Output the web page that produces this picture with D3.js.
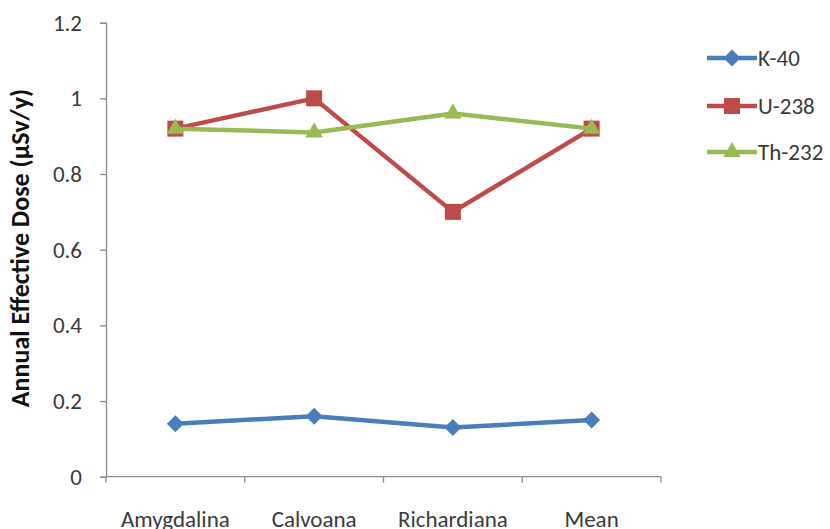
<!DOCTYPE html>
<html>
<head>
<meta charset="utf-8">
<script src="https://cdn.jsdelivr.net/npm/d3@7"></script>
<style>
  html, body { margin: 0; padding: 0; background: #fff; }
  svg { display: block; }
</style>
</head>
<body>
<svg id="chart" width="830" height="529"></svg>
<script>
// Species sampled and annual effective dose per radionuclide (µSv/y)
const categories = ["Amygdalina", "Calvoana", "Richardiana", "Mean"];
const k40 = [0.14, 0.16, 0.13, 0.15];
const u238 = [0.92, 1.00, 0.70, 0.92];
const th232 = [0.92, 0.91, 0.96, 0.92];
const yTicks = [0, 0.2, 0.4, 0.6, 0.8, 1, 1.2];
const yTickLabels = ["0", "0.2", "0.4", "0.6", "0.8", "1", "1.2"];

const series = [
  { name: "K-40", values: k40, color: "#4A7EBB", symbol: d3.symbolSquare, size: 144, rotate: 45 },
  { name: "U-238", values: u238, color: "#BE4B48", symbol: d3.symbolSquare, size: 256, rotate: 0 },
  { name: "Th-232", values: th232, color: "#98B954", symbol: d3.symbolTriangle, size: 130, rotate: 0 }
];

const svg = d3.select("#chart");
const plot = { left: 106, right: 661, top: 22.7, bottom: 476.7 };
const font = "Carlito, Lato, 'Open Sans', sans-serif";
const textColor = "#3a3a3a";
const axisColor = "#8c8c8c";

const x = d3.scaleBand().domain(categories).range([plot.left, plot.right]);
const y = d3.scaleLinear().domain([0, 1.2]).range([plot.bottom, plot.top]);

// Y axis
const yAxis = svg.append("g")
  .attr("transform", `translate(${plot.left},0)`)
  .call(d3.axisLeft(y).tickValues(yTicks)
    .tickFormat((d, i) => yTickLabels[i]).tickSizeOuter(0).tickSize(6).tickPadding(18));
yAxis.select(".domain").attr("stroke", axisColor).attr("stroke-width", 1.3);
yAxis.selectAll(".tick line").attr("stroke", axisColor).attr("stroke-width", 1.3);
yAxis.selectAll(".tick text").attr("fill", textColor).attr("font-size", 23).attr("font-family", font);

// X axis with ticks at category boundaries
const xAxisG = svg.append("g").attr("transform", `translate(0,${plot.bottom})`);
xAxisG.append("line")
  .attr("x1", plot.left).attr("x2", plot.right)
  .attr("stroke", axisColor).attr("stroke-width", 1.3);
const bounds = categories.map(c => x(c)).concat([x(categories[categories.length - 1]) + x.bandwidth()]);
xAxisG.selectAll("line.tk").data(bounds).enter().append("line")
  .attr("class", "tk")
  .attr("x1", d => d).attr("x2", d => d).attr("y1", 0).attr("y2", 6)
  .attr("stroke", axisColor).attr("stroke-width", 1.3);
xAxisG.selectAll("text").data(categories).enter().append("text")
  .attr("x", d => x(d) + x.bandwidth() / 2)
  .attr("y", 50)
  .attr("text-anchor", "middle")
  .attr("fill", textColor).attr("font-size", 23).attr("font-family", font)
  .text(d => d);

// Y axis title
svg.append("text")
  .attr("transform", `translate(29,248) rotate(-90)`)
  .attr("text-anchor", "middle")
  .attr("font-weight", "bold").attr("font-size", 26).attr("font-family", font)
  .attr("fill", "#111")
  .text("Annual Effective Dose (µSv/y)");

// Lines and markers
const line = d3.line()
  .x((d, i) => x(categories[i]) + x.bandwidth() / 2)
  .y(d => y(d));

series.forEach(s => {
  const g = svg.append("g");
  g.append("path")
    .datum(s.values)
    .attr("fill", "none")
    .attr("stroke", s.color)
    .attr("stroke-width", 4.5)
    .attr("stroke-linejoin", "round")
    .attr("d", line);
  g.selectAll("path.mk").data(s.values).enter().append("path")
    .attr("class", "mk")
    .attr("d", d3.symbol().type(s.symbol).size(s.size))
    .attr("transform", (d, i) => `translate(${x(categories[i]) + x.bandwidth() / 2},${y(d)}) rotate(${s.rotate})`)
    .attr("fill", s.color);
});

// Legend
const legend = svg.append("g");
const rows = [58, 106, 152];
series.forEach((s, i) => {
  const g = legend.append("g").attr("transform", `translate(0,${rows[i]})`);
  g.append("line").attr("x1", 707).attr("x2", 757)
    .attr("stroke", s.color).attr("stroke-width", 4.5);
  g.append("path")
    .attr("d", d3.symbol().type(s.symbol).size(s.size))
    .attr("transform", `translate(732,0) rotate(${s.rotate})`)
    .attr("fill", s.color);
  g.append("text")
    .attr("x", 758).attr("y", 0).attr("dy", "0.35em")
    .attr("fill", textColor).attr("font-size", 23).attr("font-family", font)
    .text(s.name);
});
</script>
</body>
</html>
